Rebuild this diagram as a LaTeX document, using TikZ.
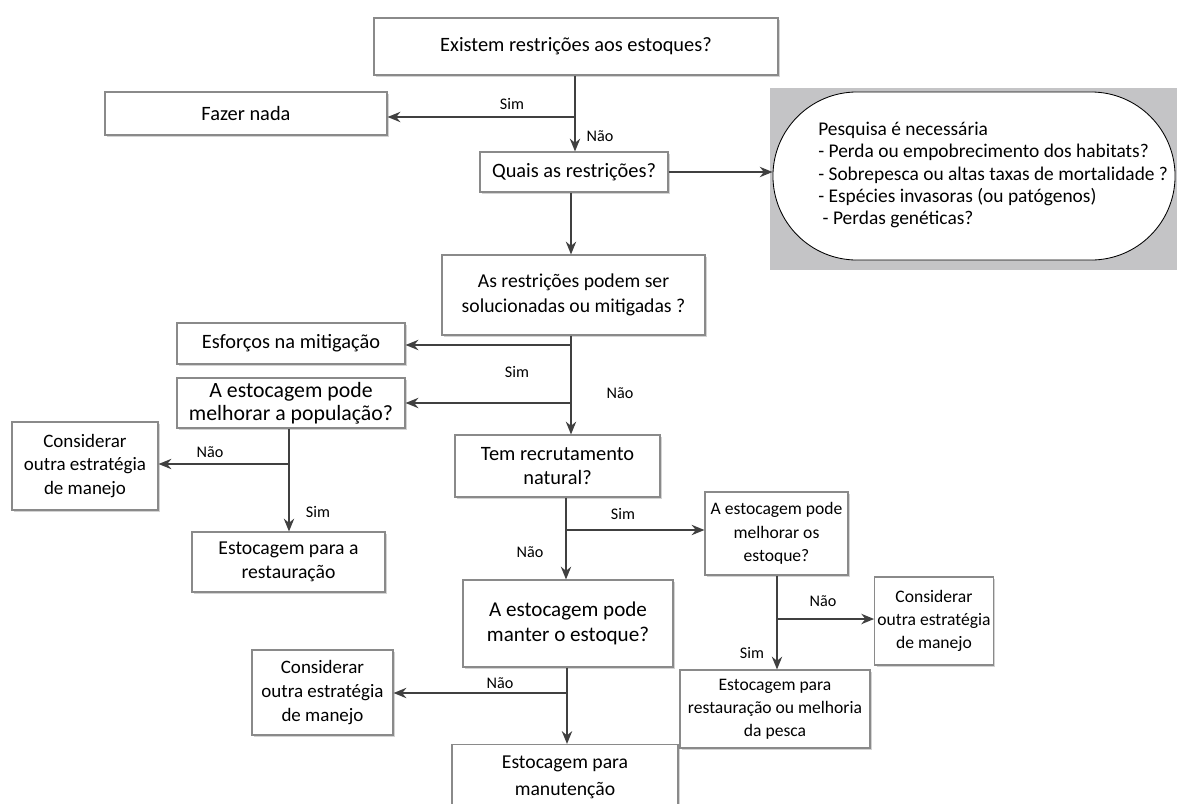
\documentclass[tikz,border=0pt]{standalone}
\usepackage{fontspec}
\setmainfont{Carlito}
\usetikzlibrary{arrows.meta,shadows}

\definecolor{linegray}{HTML}{404040}
\definecolor{boxgray}{HTML}{8A8A8A}
\definecolor{bggray}{HTML}{C4C4C6}

\begin{document}
\begin{tikzpicture}[
      x=0.025cm, y=-0.025cm,
      box/.style={draw=boxgray, line width=0.8pt, fill=white, align=center,
        font=\fontsize{14.5}{17}\selectfont, inner sep=2pt,
        drop shadow={shadow xshift=1.5pt, shadow yshift=-1.5pt, opacity=0.35}},
      small/.style={font=\fontsize{12.5}{16.5}\selectfont},
      lbl/.style={font=\fontsize{11.5}{13}\selectfont, inner sep=1pt},
      arr/.style={draw=linegray, line width=1pt, -{Stealth[length=3.2mm,width=2.6mm]}}
    ]
    \useasboundingbox (0,0) rectangle (1177,803);

    % research panel
    \fill[bggray] (770,88) rectangle (1177,270);
    \node[draw=black, line width=0.6pt, fill=white, rounded corners=2.1cm,
      minimum width=10.05cm, minimum height=4.2cm] (pesquisa) at (974,176) {};
    \node[anchor=north west, align=left, inner sep=0pt,
      font=\fontsize{13.8}{15.8}\selectfont] (pesqtxt) at (818,122)
      {Pesquisa é necessária\\
       - Perda ou empobrecimento dos habitats?\\
       - Sobrepesca ou altas taxas de mortalidade ?\\
       - Espécies invasoras (ou patógenos)\\
       \ - Perdas genéticas?};

    % main column
    \node[box, minimum width=10.1cm, minimum height=1.425cm] (top) at (576,46.5) {Existem restrições aos estoques?};
    \node[box, minimum width=7.05cm, minimum height=1.075cm] (fazer) at (246,113.5) {Fazer nada};
    \node[box, minimum width=4.7cm, minimum height=1cm] (quais) at (574,172) {Quais as restrições?};
    \node[box, font=\fontsize{14}{17.5}\selectfont, minimum width=6.575cm, minimum height=2cm] (solucion) at (573.5,295) {As restrições podem ser\\solucionadas ou mitigadas ?};

    % left branch
    \node[box, minimum width=5.7cm, minimum height=1.025cm] (esforcos) at (291,343.5) {Esforços na mitigação};
    \node[box, font=\fontsize{15.5}{16.5}\selectfont, minimum width=5.7cm, minimum height=1.25cm] (popul) at (291,403) {A estocagem pode\\melhorar a população?};
    \node[box, font=\fontsize{13.5}{17}\selectfont, minimum width=3.65cm, minimum height=2.2cm] (consid1) at (85,466) {Considerar\\outra estratégia\\de manejo};
    \node[box, font=\fontsize{14}{17.5}\selectfont, minimum width=4.825cm, minimum height=1.5cm] (restaur) at (288.5,562) {Estocagem para a\\restauração};

    % recruitment
    \node[box, minimum width=5.125cm, minimum height=1.55cm] (recrut) at (557.5,466) {Tem recrutamento\\natural?};
    \node[box, small, minimum width=3.575cm, minimum height=2.075cm] (melhor) at (776.5,533.5) {A estocagem pode\\melhorar os\\estoque?};
    \node[box, small, minimum width=2.95cm, minimum height=2.2cm] (consid2) at (934,621) {Considerar\\outra estratégia\\de manejo};
    \node[box, small, minimum width=4.75cm, minimum height=1.95cm] (pesca) at (775,709) {Estocagem para\\restauração ou melhoria\\da pesca};
    \node[box, font=\fontsize{15}{18}\selectfont, minimum width=5.25cm, minimum height=2.175cm] (manter) at (568,623.5) {A estocagem pode\\manter o estoque?};
    \node[box, font=\fontsize{13.5}{17}\selectfont, minimum width=3.525cm, minimum height=2.125cm] (consid3) at (322.5,692.5) {Considerar\\outra estratégia\\de manejo};
    \node[box, font=\fontsize{14}{19}\selectfont, minimum width=5.65cm, minimum height=1.625cm] (manut) at (565,777) {Estocagem para\\manutenção};

    % junctions
    \coordinate (sim1) at (575,117);
    \coordinate (sim2a) at (571,345);
    \coordinate (sim2b) at (571,403);
    \coordinate (nao1) at (289,464);
    \coordinate (sim3) at (566,530);
    \coordinate (nao2) at (777,619);
    \coordinate (nao3) at (567,693);

    % connectors
    \draw[arr] (top.south -| sim1) -- (quais.north -| sim1);
    \draw[arr] (sim1) -- (sim1 -| fazer.east);
    \draw[arr] (quais.east) -- (quais.east -| pesquisa.west);
    \draw[arr] (quais.south -| sim2a) -- (solucion.north -| sim2a);
    \draw[arr] (solucion.south -| sim2a) -- (recrut.north -| sim2a);
    \draw[arr] (sim2a) -- (sim2a -| esforcos.east);
    \draw[arr] (sim2b) -- (sim2b -| popul.east);
    \draw[arr] (popul.south -| nao1) -- (restaur.north -| nao1);
    \draw[arr] (nao1) -- (nao1 -| consid1.east);
    \draw[arr] (recrut.south -| sim3) -- (manter.north -| sim3);
    \draw[arr] (sim3) -- (sim3 -| melhor.west);
    \draw[arr] (melhor.south -| nao2) -- (pesca.north -| nao2);
    \draw[arr] (nao2) -- (nao2 -| consid2.west);
    \draw[arr] (manter.south -| nao3) -- (manut.north -| nao3);
    \draw[arr] (nao3) -- (nao3 -| consid3.east);

    % labels
    \node[lbl] (l1) at (512,104) {Sim};
    \node[lbl] (l2) at (600,136) {Não};
    \node[lbl] (l3) at (517,372) {Sim};
    \node[lbl] (l4) at (620,393) {Não};
    \node[lbl] (l5) at (210,452) {Não};
    \node[lbl] (l6) at (318,512) {Sim};
    \node[lbl] (l7) at (623,514) {Sim};
    \node[lbl] (l8) at (530,552) {Não};
    \node[lbl] (l9) at (823,601) {Não};
    \node[lbl] (l10) at (752,653) {Sim};
    \node[lbl] (l11) at (500,683) {Não};
  \end{tikzpicture}
\end{document}
